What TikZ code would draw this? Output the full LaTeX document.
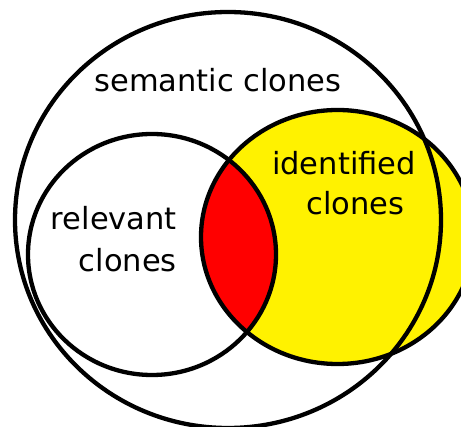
\documentclass[tikz,border=0pt]{standalone}
\usepackage{fontspec}
\setmainfont{DejaVu Sans}
\begin{document}
\begin{tikzpicture}[x=1pt,y=-1pt,
  outline/.style={draw=black, line width=4.3pt},
  lbl/.style={inner sep=0pt, font=\fontsize{30.5}{36}\selectfont}]
\useasboundingbox (0,0) rectangle (461,427);
\fill[white] (0,0) rectangle (461,427);
\clip (0,0) rectangle (461,427);
% identified clones (yellow)
\fill[yellow] (337.5,237) ellipse [x radius=136.5pt, y radius=127pt];
% intersection (red)
\begin{scope}
  \clip (152,254.5) ellipse [x radius=124pt, y radius=120.5pt];
  \fill[red] (337.5,237) ellipse [x radius=136.5pt, y radius=127pt];
\end{scope}
% outlines
\draw[outline] (228,220) ellipse [x radius=213pt, y radius=208pt];
\draw[outline] (152,254.5) ellipse [x radius=124pt, y radius=120.5pt];
\draw[outline] (337.5,237) ellipse [x radius=136.5pt, y radius=127pt];
% labels
\node[lbl, anchor=base] (sem) at (218,92) {semantic clones};
\node[lbl, anchor=base east] (rel1) at (177,230) {relevant};
\node[lbl, anchor=base east] (rel2) at (177,272) {clones};
\node[lbl, anchor=base] (id1) at (344,175) {identified};
\node[lbl, anchor=base] (id2) at (355.5,215) {clones};
\end{tikzpicture}
\end{document}
